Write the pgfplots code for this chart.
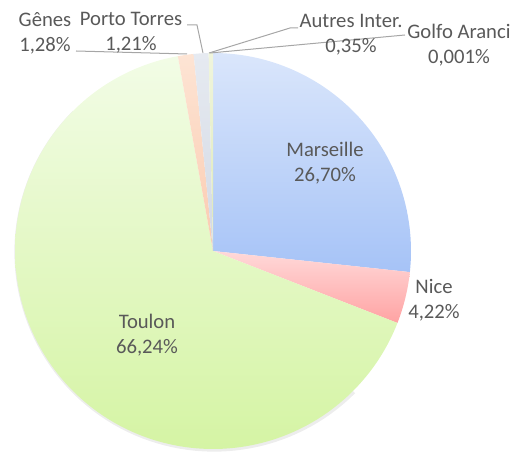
\documentclass[border=0pt]{standalone}
\usepackage{pgfplots}
\pgfplotsset{compat=1.18}
\usepackage{fontspec}
\setmainfont{Carlito}
\definecolor{txt}{HTML}{595959}
\definecolor{lead}{HTML}{A6A6A6}
\definecolor{marT}{HTML}{DAE6FB}\definecolor{marB}{HTML}{A6C3F7}
\definecolor{nicT}{HTML}{FFD9D9}\definecolor{nicB}{HTML}{FFA3A3}
\definecolor{touT}{HTML}{F2FCE6}\definecolor{touB}{HTML}{D5F4A4}
\definecolor{genT}{HTML}{FDE4D4}\definecolor{genB}{HTML}{FBCBB0}
\definecolor{porT}{HTML}{E6EAF1}\definecolor{porB}{HTML}{D3D9E4}
\definecolor{autT}{HTML}{F0F5DC}\definecolor{autB}{HTML}{DDE8B8}
% shares in percent
\def\pMar{26.70}
\def\pNic{4.22}
\def\pTou{66.24}
\def\pGen{1.28}
\def\pPor{1.21}
\def\pAut{0.35}
\def\pGol{0.001}
\pgfmathsetmacro\aA{90}
\pgfmathsetmacro\aB{\aA-3.6*\pMar}
\pgfmathsetmacro\aC{\aB-3.6*\pNic}
\pgfmathsetmacro\aD{\aC-3.6*\pTou}
\pgfmathsetmacro\aE{\aD-3.6*\pGen}
\pgfmathsetmacro\aF{\aE-3.6*\pPor}
\pgfmathsetmacro\aG{\aF-3.6*\pAut}
\pgfmathsetmacro\aH{\aG-3.6*\pGol}
\def\cx{213}\def\cy{199}\def\R{198}
\begin{document}
\begin{tikzpicture}
\begin{axis}[hide axis, scale only axis, width=383.25pt, height=337.5pt,
  xmin=0, xmax=511, ymin=0, ymax=450, clip=false]
\addplot[draw=none] coordinates {(0,0) (511,450)};
% shadow
\addplot[draw=black!7, line width=2.5pt, domain=135:315, samples=80] ({\cx+1+\R*cos(x)},{\cy-1+\R*sin(x)});
\addplot[draw=none, top color=marT, bottom color=marB, domain=\aA:\aB, samples=60] ({\cx+\R*cos(x)},{\cy+\R*sin(x)}) -- (axis cs:\cx,\cy) -- cycle;
\addplot[draw=none, top color=nicT, bottom color=nicB, domain=\aB:\aC, samples=20] ({\cx+\R*cos(x)},{\cy+\R*sin(x)}) -- (axis cs:\cx,\cy) -- cycle;
\addplot[draw=none, top color=touT, bottom color=touB, domain=\aC:\aD, samples=150] ({\cx+\R*cos(x)},{\cy+\R*sin(x)}) -- (axis cs:\cx,\cy) -- cycle;
\addplot[draw=none, top color=genT, bottom color=genB, domain=\aD:\aE, samples=10] ({\cx+\R*cos(x)},{\cy+\R*sin(x)}) -- (axis cs:\cx,\cy) -- cycle;
\addplot[draw=none, top color=porT, bottom color=porB, domain=\aE:\aF, samples=10] ({\cx+\R*cos(x)},{\cy+\R*sin(x)}) -- (axis cs:\cx,\cy) -- cycle;
\addplot[draw=none, top color=autT, bottom color=autB, domain=\aF:\aG, samples=5] ({\cx+\R*cos(x)},{\cy+\R*sin(x)}) -- (axis cs:\cx,\cy) -- cycle;
% leader lines
\addplot[lead, line width=0.75pt] coordinates {(76,399) (187,396)};
\addplot[lead, line width=0.75pt] coordinates {(187,425) (197,425) (203,397)};
\addplot[lead, line width=0.75pt] coordinates {(298,422) (290,422) (209,397)};
\addplot[lead, line width=0.75pt] coordinates {(405,415) (210,397)};
% labels
\begin{scope}[every node/.style={text=txt, align=center, inner sep=0pt, font=\fontsize{15.5}{18.7}\selectfont}]
\node at (axis cs:325,287) {Marseille\\26,70\%};
\node at (axis cs:434,150) {Nice\\4,22\%};
\node at (axis cs:147,115) {Toulon\\66,24\%};
\node at (axis cs:45,417) {Gênes\\1,28\%};
\node at (axis cs:131,417) {Porto Torres\\1,21\%};
\node at (axis cs:351,415) {Autres Inter.\\0,35\%};
\node at (axis cs:459,405) {Golfo Aranci\\0,001\%};
\end{scope}
\end{axis}
\end{tikzpicture}
\end{document}
